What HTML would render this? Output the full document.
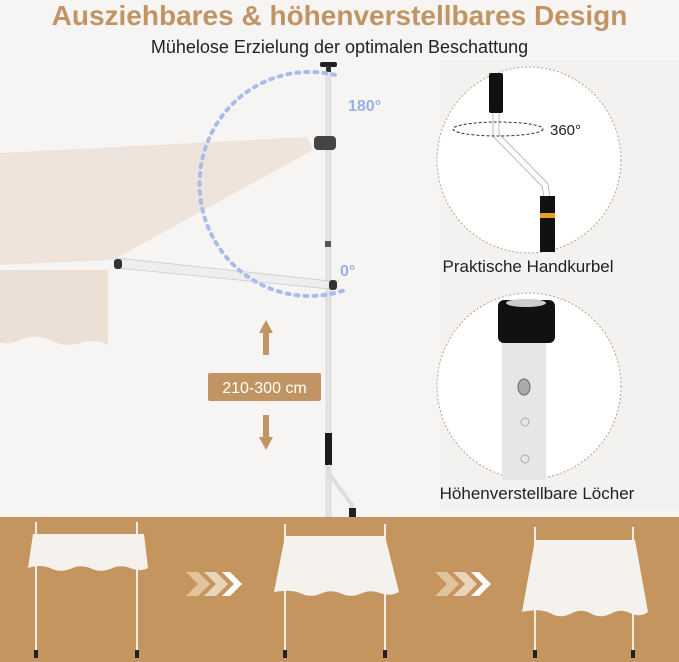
<!DOCTYPE html>
<html><head><meta charset="utf-8"><style>
html,body{margin:0;padding:0;width:679px;height:662px;overflow:hidden;background:#f7f6f4}
svg{display:block}
text{font-family:"Liberation Sans",sans-serif}
</style></head><body>
<svg width="679" height="662" viewBox="0 0 679 662" xmlns="http://www.w3.org/2000/svg">
<rect width="679" height="517" fill="#f6f5f3"/>
<rect x="440" y="60" width="239" height="450" fill="#f3f2f0"/>
<polygon points="0,153 307,137 313,150 113,260 0,265" fill="#efe4dc"/>
<path d="M0,270 L108,270 L108,345 Q95,338 80,343 Q65,348 50,340 Q35,333 20,340 Q10,345 0,342 Z" fill="#ebdfd6"/>
<rect x="326" y="70" width="5" height="447" fill="#e3e3e3" stroke="#cfcfcf" stroke-width="0.6"/>
<rect x="320" y="62" width="17" height="5" rx="2" fill="#222"/>
<rect x="326" y="66" width="5" height="6" fill="#333"/>
<rect x="314" y="136" width="22" height="14" rx="4" fill="#444"/>
<rect x="325" y="241" width="6" height="6" fill="#555"/>
<polygon points="117,258 330,281 330,289 117,268" fill="#eeeeee" stroke="#ccc" stroke-width="0.8"/>
<rect x="114" y="259" width="8" height="10" rx="3" fill="#333"/>
<rect x="329" y="280" width="8" height="10" rx="3" fill="#333"/>
<path d="M335,75 A110,112 0 1 0 345,290" fill="none" stroke="#a9bdea" stroke-width="4" stroke-dasharray="3 6" stroke-linecap="round"/>
<text x="348" y="111" font-size="16" fill="#9ab0e4" font-weight="bold">180°</text>
<text x="340" y="276" font-size="16" fill="#9ab0e4" font-weight="bold">0°</text>
<rect x="325" y="433" width="7" height="32" fill="#1a1a1a"/>
<path d="M328,465 L330,475 L352,505 L352,512" fill="none" stroke="#ddd" stroke-width="4"/>
<rect x="349" y="508" width="7" height="9" fill="#222"/>
<polygon points="266,320 259,333 263,333 263,355 269,355 269,333 273,333" fill="#c19463"/>
<polygon points="266,450 259,437 263,437 263,415 269,415 269,437 273,437" fill="#c19463"/>
<rect x="208" y="373" width="113" height="28" rx="2" fill="#c19463"/>
<text x="264.5" y="393" font-size="16" fill="#fff" text-anchor="middle">210-300 cm</text>
<text x="339.5" y="25" font-size="28" font-weight="bold" fill="#c19463" text-anchor="middle">Ausziehbares &amp; höhenverstellbares Design</text>
<text x="339.5" y="53" font-size="18" fill="#222" text-anchor="middle">Mühelose Erzielung der optimalen Beschattung</text>
<ellipse cx="529" cy="160" rx="92" ry="93" fill="#fff" stroke="#b8a48a" stroke-dasharray="2 2" stroke-width="1"/>
<path d="M496,112 L496,135 L545,185 L547,198" fill="none" stroke="#bbb" stroke-width="7" stroke-linejoin="round"/>
<path d="M496,112 L496,135 L545,185 L547,198" fill="none" stroke="#fff" stroke-width="5" stroke-linejoin="round"/>
<rect x="489" y="73" width="14" height="40" rx="2" fill="#111"/>
<rect x="540" y="196" width="15" height="56" fill="#111"/>
<rect x="540" y="213" width="15" height="5" fill="#e8a020"/>
<ellipse cx="498" cy="129" rx="45" ry="7" fill="none" stroke="#333" stroke-dasharray="3 2" stroke-width="1"/>
<text x="550" y="135" font-size="15" fill="#222">360°</text>
<text x="528" y="272" font-size="17" fill="#222" text-anchor="middle">Praktische Handkurbel</text>
<ellipse cx="529" cy="386" rx="92" ry="93" fill="#fff" stroke="#b8a48a" stroke-dasharray="2 2" stroke-width="1"/>
<rect x="502" y="330" width="44" height="150" fill="#e6e6e8"/>
<rect x="498" y="300" width="57" height="43" rx="6" fill="#111"/>
<ellipse cx="526" cy="303" rx="20" ry="4" fill="#ccc"/>
<ellipse cx="524" cy="387" rx="6" ry="8" fill="#aaa" stroke="#666"/>
<circle cx="525" cy="422" r="4" fill="none" stroke="#aaa"/>
<circle cx="525" cy="459" r="4" fill="none" stroke="#aaa"/>
<text x="537" y="499" font-size="17" fill="#222" text-anchor="middle">Höhenverstellbare Löcher</text>
<rect x="0" y="517" width="679" height="145" fill="#c4955e"/>
<g stroke="#f3ece2" stroke-width="2">
<line x1="36" y1="522" x2="36" y2="656"/><line x1="137" y1="522" x2="137" y2="656"/>
<line x1="285" y1="524" x2="285" y2="656"/><line x1="385" y1="524" x2="385" y2="656"/>
<line x1="535" y1="527" x2="535" y2="656"/><line x1="633" y1="527" x2="633" y2="656"/>
</g>
<path d="M33,534 L144,534 L148,568 Q140,572 130,568 Q120,564 110,569 Q100,573 90,568 Q80,564 70,569 Q60,573 50,568 Q40,564 28,568 Z" fill="#f5f2ee"/>
<path d="M285,536 L385,536 L399,592 Q390,597 380,593 Q370,589 360,594 Q350,598 340,593 Q330,589 320,594 Q310,598 300,593 Q290,589 274,592 Z" fill="#f5f2ee"/>
<path d="M535,540 L635,540 L648,612 Q640,618 630,613 Q620,608 610,614 Q600,619 590,613 Q580,608 570,614 Q560,619 550,613 Q540,608 522,612 Z" fill="#f5f2ee"/>
<g fill="#222"><rect x="34" y="650" width="4" height="8"/><rect x="135" y="650" width="4" height="8"/><rect x="283" y="650" width="4" height="8"/><rect x="383" y="650" width="4" height="8"/><rect x="533" y="650" width="4" height="8"/><rect x="631" y="650" width="4" height="8"/></g>
<g>
<polygon points="186,572 198,572 210,584 198,596 186,596 198,584" fill="#e0c29d"/>
<polygon points="204,572 216,572 228,584 216,596 204,596 216,584" fill="#ead5b8"/>
<polygon points="222,572 230,572 242,584 230,596 222,596 234,584" fill="#fff"/>
<polygon points="435,572 447,572 459,584 447,596 435,596 447,584" fill="#e0c29d"/>
<polygon points="453,572 465,572 477,584 465,596 453,596 465,584" fill="#ead5b8"/>
<polygon points="471,572 479,572 491,584 479,596 471,596 483,584" fill="#fff"/>
</g>
</svg>
</body></html>
